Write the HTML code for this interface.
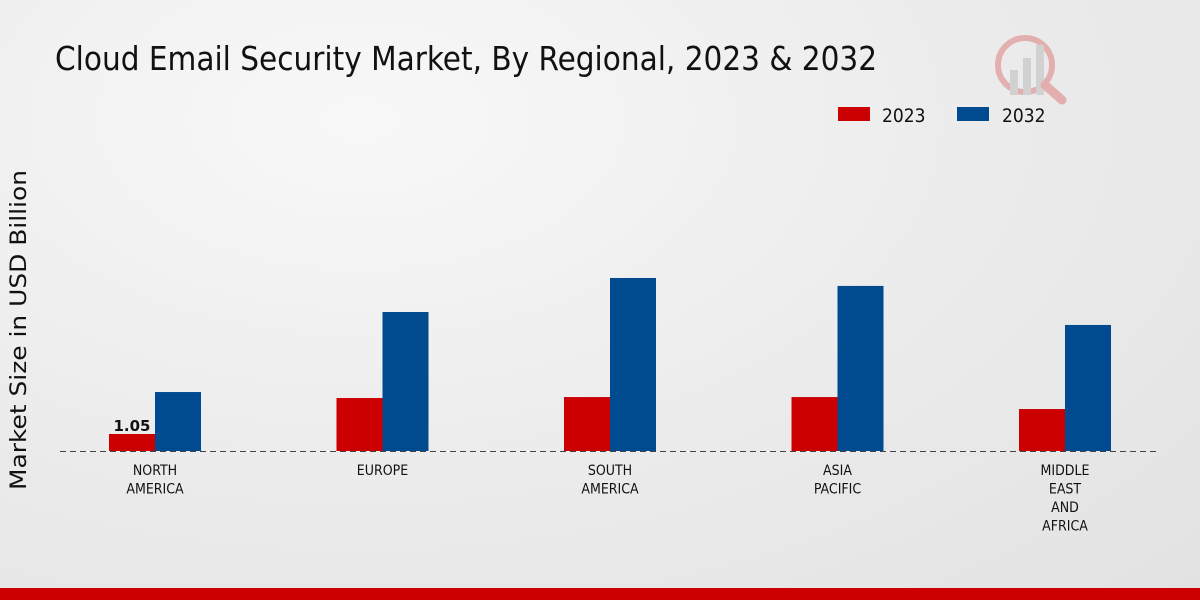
<!DOCTYPE html>
<html><head><meta charset="utf-8">
<style>
html,body{margin:0;padding:0;}
body{width:1200px;height:600px;overflow:hidden;background:radial-gradient(ellipse at 30% 20%,#f8f8f8 0%,#ebebeb 55%,#e2e2e2 100%);font-family:"DejaVu Sans Condensed","Liberation Sans",sans-serif;position:relative;}
</style></head>
<body>
<svg width="1200" height="600" style="position:absolute;left:0;top:0" font-family="DejaVu Sans Condensed, Liberation Sans, sans-serif">
<text x="55" y="70" font-size="33" fill="#111" textLength="822" lengthAdjust="spacingAndGlyphs">Cloud Email Security Market, By Regional, 2023 &amp; 2032</text>
<g opacity="0.25">
<circle cx="1025" cy="65" r="27" fill="none" stroke="#c00" stroke-width="6"/>
<rect x="1010" y="70" width="8" height="25" fill="#888"/>
<rect x="1023" y="58" width="8" height="37" fill="#888"/>
<rect x="1036" y="45" width="8" height="50" fill="#888"/>
<line x1="1045" y1="85" x2="1062" y2="100" stroke="#c00" stroke-width="9" stroke-linecap="round"/>
</g>
<g>
<rect x="838" y="107" width="32" height="14" fill="#cc0000"/>
<text x="882" y="122" font-size="19" fill="#111">2023</text>
<rect x="957" y="107" width="32" height="14" fill="#004a8f"/>
<text x="1002" y="122" font-size="19" fill="#111">2032</text>
</g>
<text transform="translate(26,330) rotate(-90)" text-anchor="middle" font-size="22" fill="#111" font-family="DejaVu Sans, sans-serif" textLength="320" lengthAdjust="spacingAndGlyphs">Market Size in USD Billion</text>
<g id="bars"></g>
<line x1="60" y1="451.5" x2="1160" y2="451.5" stroke="#444" stroke-width="1" stroke-dasharray="6,4"/>
<g id="labels"></g>
<rect x="0" y="588" width="1200" height="12" fill="#cc0000"/>
</svg>
<script>
const categories = [["NORTH","AMERICA"],["EUROPE"],["SOUTH","AMERICA"],["ASIA","PACIFIC"],["MIDDLE","EAST","AND","AFRICA"]];
const values2023 = [1.05,3.27,3.33,3.33,2.59];
const values2032 = [3.64,8.58,10.68,10.19,7.78];
const NS="http://www.w3.org/2000/svg";
const baseY=451, pxPerUnit=16.2, x0=155, step=227.5, bw=46;
const yScale=v=>baseY - v*pxPerUnit;
const xCenter=i=>x0+i*step;
const bars=document.getElementById('bars'), labels=document.getElementById('labels');
categories.forEach((c,i)=>{
  const cx=xCenter(i);
  [[values2023[i],cx-bw,'#cc0000','2023'],[values2032[i],cx,'#004a8f','2032']].forEach(([v,x,col,yr])=>{
    const r=document.createElementNS(NS,'rect');
    r.setAttribute('x',x);r.setAttribute('y',yScale(v));r.setAttribute('width',bw);r.setAttribute('height',baseY-yScale(v));r.setAttribute('fill',col);
    
    
    bars.appendChild(r);
  });
  c.forEach((line,j)=>{
    const t=document.createElementNS(NS,'text');
    t.setAttribute('x',cx);t.setAttribute('y',475+j*18.5);t.setAttribute('text-anchor','middle');t.setAttribute('font-size','14');t.setAttribute('fill','#111');
    t.textContent=line;
    
    
    labels.appendChild(t);
  });
});
const vl=document.createElementNS(NS,'text');
vl.setAttribute('x',xCenter(0)-bw/2);vl.setAttribute('y',yScale(values2023[0])-3);vl.setAttribute('text-anchor','middle');vl.setAttribute('font-size','15');vl.setAttribute('font-weight','bold');vl.setAttribute('font-family','DejaVu Sans, sans-serif');vl.setAttribute('fill','#111');
vl.textContent=values2023[0].toFixed(2);


labels.appendChild(vl);
</script>
</body></html>
